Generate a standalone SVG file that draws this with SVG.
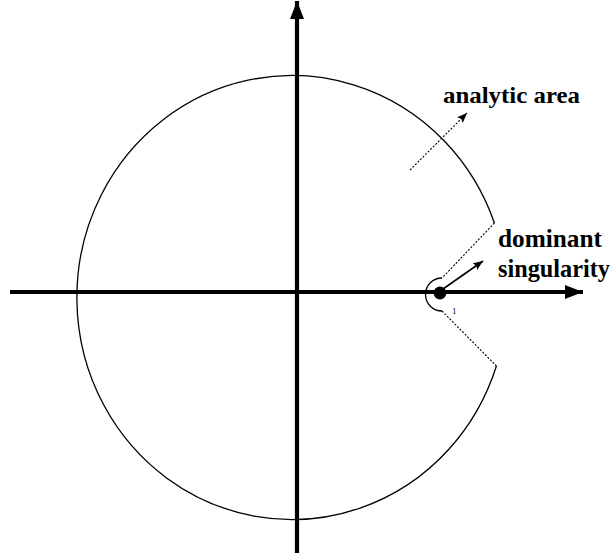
<svg xmlns="http://www.w3.org/2000/svg" width="613" height="558" viewBox="0 0 613 558">
<style>
.axis{stroke:#000;stroke-width:4.2;fill:none}
.curve{stroke:#000;stroke-width:1.3;fill:none}
.dash{stroke:#000;stroke-width:1.1;fill:none;stroke-dasharray:2 1.6}
.ptr{stroke:#000;stroke-width:1.6;fill:none}
.lbl{font-family:"Liberation Serif","Times New Roman",serif;font-weight:bold;fill:#000}
</style>
<defs>
<marker id="axhead" markerUnits="userSpaceOnUse" markerWidth="20" markerHeight="16" refX="18" refY="7" orient="auto">
<path d="M0,0 L18,7 L0,14 Z" fill="#000"/>
</marker>
<marker id="smhead" markerUnits="userSpaceOnUse" markerWidth="12" markerHeight="10" refX="10" refY="4" orient="auto">
<path d="M0,0 L10,4 L0,8 L2,4 Z" fill="#000"/>
</marker>
</defs>
<g id="axes">
<line id="x-axis" class="axis" x1="10" y1="292" x2="583" y2="292" marker-end="url(#axhead)"/>
<line id="y-axis" class="axis" x1="297" y1="553" x2="297" y2="1" marker-end="url(#axhead)"/>
</g>
<g id="region">
<path id="big-arc" class="curve" d="M494.4,223 A215,222 0 1 0 496.4,366"/>
<path id="small-arc" class="curve" d="M442,278 A16.5,16.5 0 1 0 442,311"/>
<line class="dash" x1="494.4" y1="223" x2="442" y2="278"/>
<line class="dash" x1="442" y1="311" x2="496.4" y2="366"/>
</g>
<g id="singularity">
<circle cx="440" cy="293" r="6.5" fill="#000"/>
<text x="452" y="314" font-family="Liberation Serif, serif" font-size="9">1</text>
</g>
<g id="connectors">
<line class="ptr" x1="443" y1="289" x2="483" y2="261" marker-end="url(#smhead)"/>
<line class="dash" x1="410" y1="170" x2="467" y2="113" marker-end="url(#smhead)"/>
</g>
<g id="labels">
<text class="lbl" x="443" y="103" font-size="23" textLength="137" lengthAdjust="spacingAndGlyphs">analytic area</text>
<text class="lbl" x="498" y="247" font-size="25" textLength="104" lengthAdjust="spacingAndGlyphs">dominant</text>
<text class="lbl" x="498" y="277" font-size="25" textLength="112" lengthAdjust="spacingAndGlyphs">singularity</text>
</g>
</svg>
